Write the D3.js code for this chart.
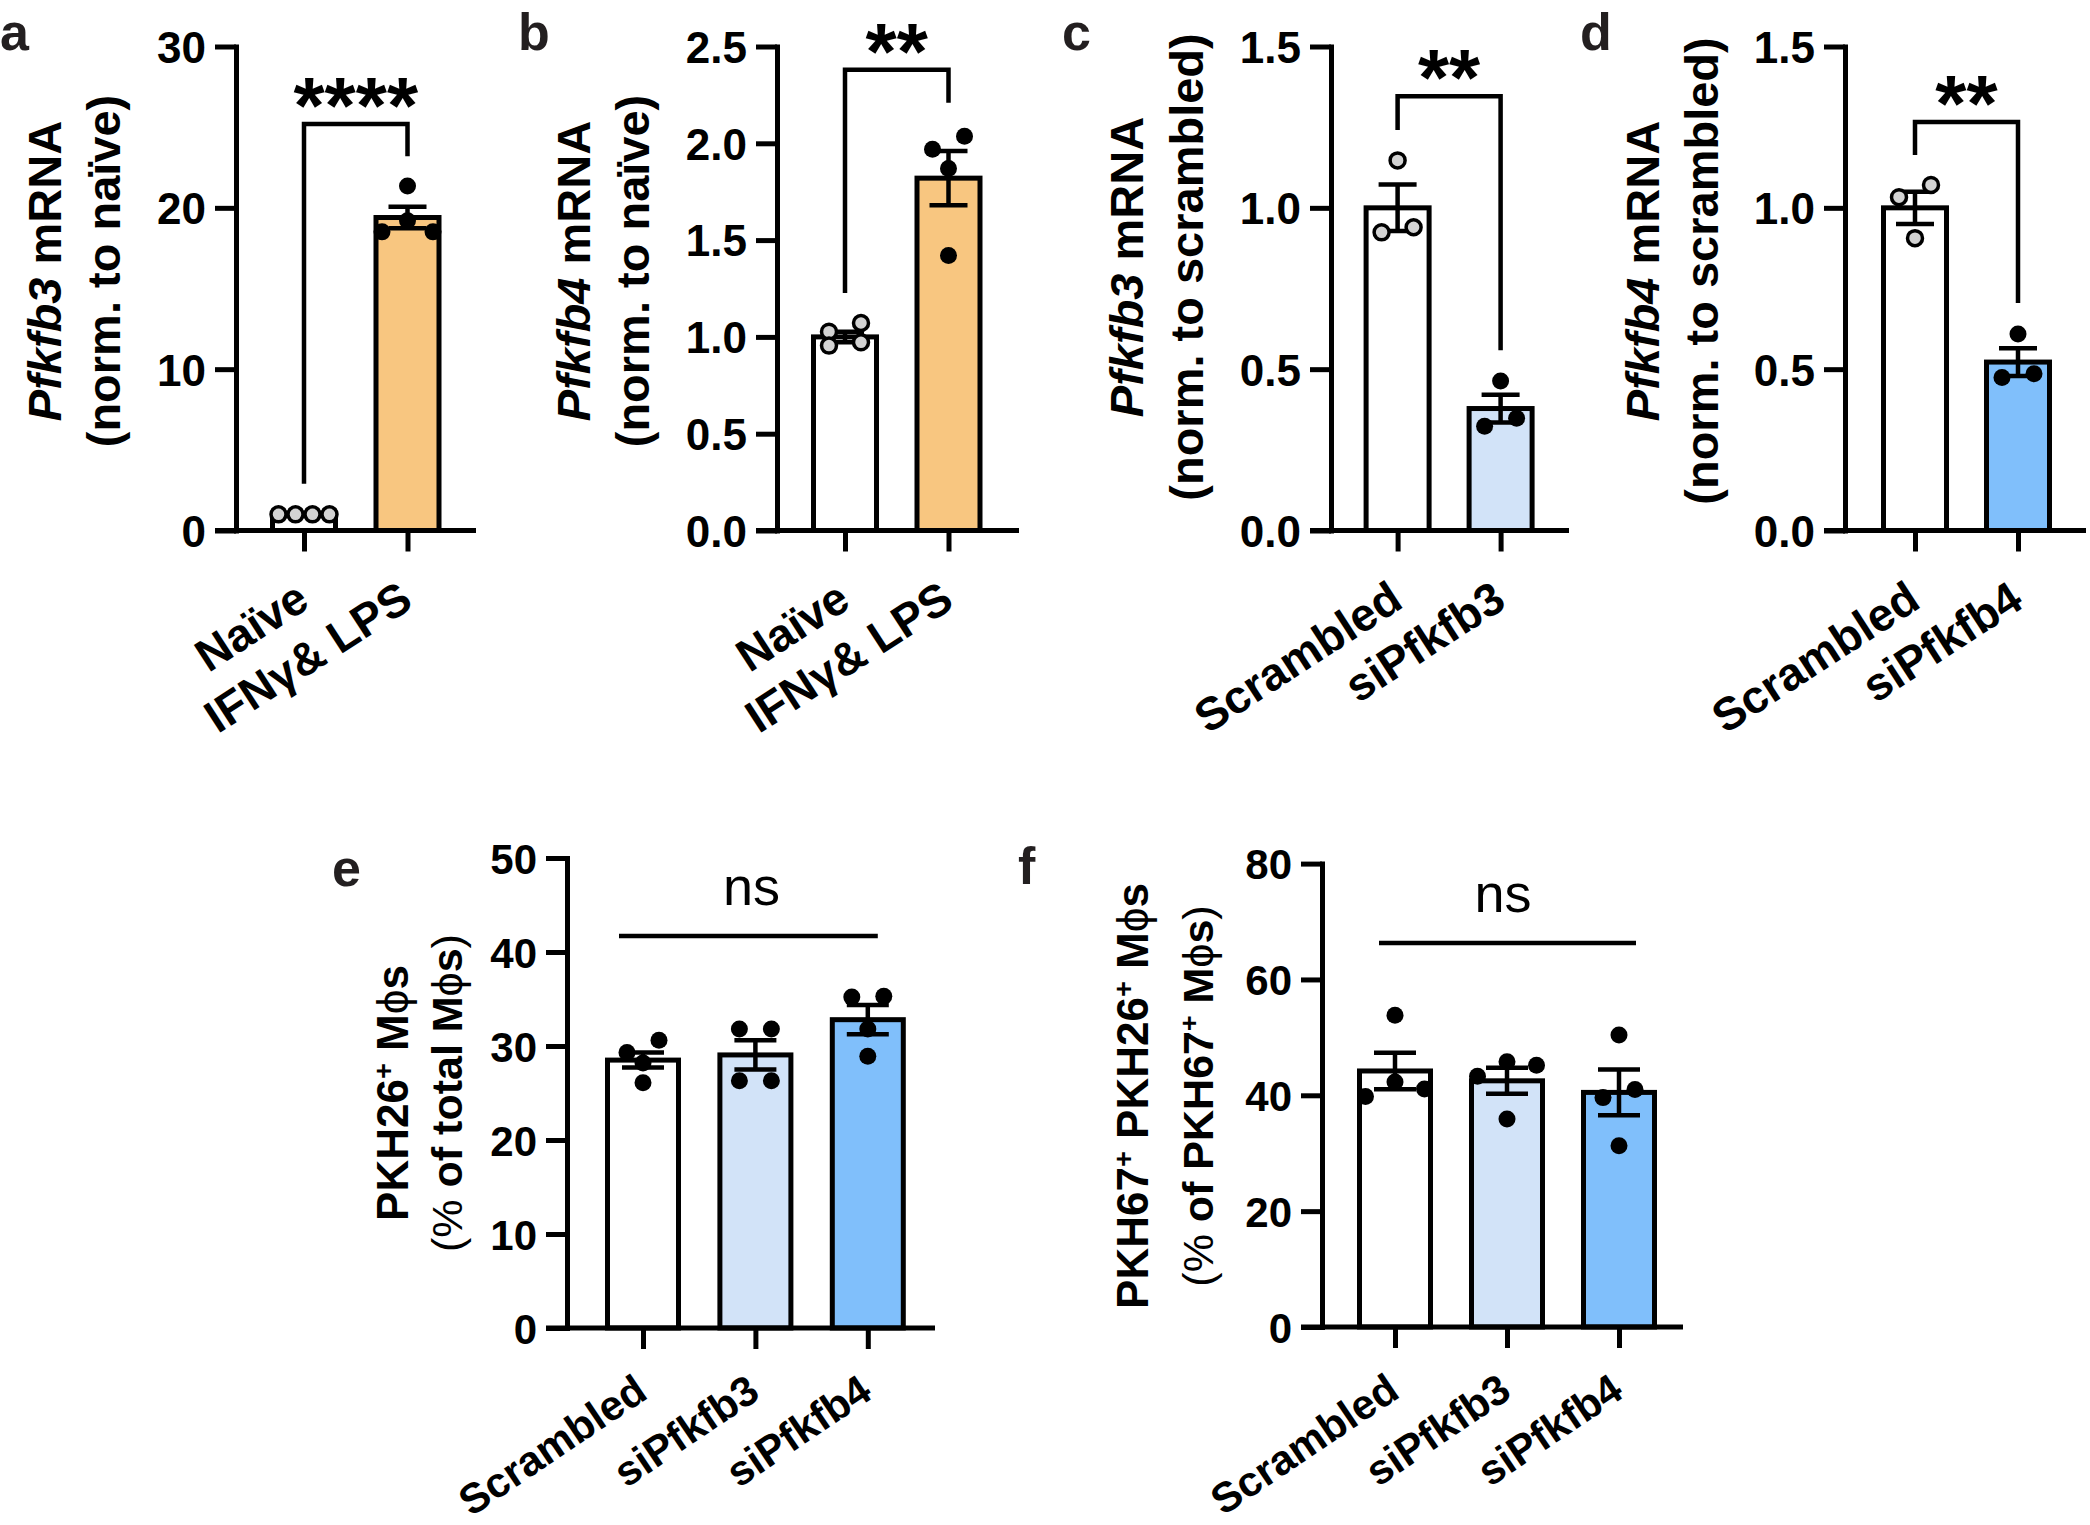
<!DOCTYPE html>
<html>
<head>
<meta charset="utf-8">
<script src="https://cdn.jsdelivr.net/npm/d3@7"></script>
<style>
  html, body { margin: 0; padding: 0; background: #fff; }
  svg { display: block; font-family: "Liberation Sans", Arial, Helvetica, sans-serif; }
</style>
</head>
<body>
<svg id="chart" width="2090" height="1525"></svg>
<script>
// ---------------- DATA ----------------
// Panel a: Pfkfb3 mRNA (norm. to naive)
const catsA = ["Naïve", "IFNγ& LPS"];
const meansA = [1.0, 19.4];
const semsA = [0.03, 0.67];
const pointsA = [[1.0, 1.0, 1.0, 1.0], [21.36, 19.2, 18.51, 18.51]];
const ticksA = [0, 10, 20, 30];

// Panel b: Pfkfb4 mRNA (norm. to naive)
const catsB = ["Naïve", "IFNγ& LPS"];
const meansB = [1.0, 1.82];
const semsB = [0.027, 0.14];
const pointsB = [[1.027, 1.072, 0.972, 0.955], [2.036, 1.969, 1.87, 1.421]];
const ticksB = [0, 0.5, 1.0, 1.5, 2.0, 2.5];

// Panel c: Pfkfb3 mRNA (norm. to scrambled)
const catsC = ["Scrambled", "siPfkfb3"];
const meansC = [1.0, 0.378];
const semsC = [0.072, 0.043];
const pointsC = [[1.147, 0.94, 0.924], [0.463, 0.348, 0.323]];
const ticksC = [0, 0.5, 1.0, 1.5];

// Panel d: Pfkfb4 mRNA (norm. to scrambled)
const catsD = ["Scrambled", "siPfkfb4"];
const meansD = [1.0, 0.522];
const semsD = [0.05, 0.043];
const pointsD = [[1.071, 1.033, 0.906], [0.609, 0.486, 0.474]];
const ticksD = [0, 0.5, 1.0, 1.5];

// Panel e: PKH26+ Mphis (% of total Mphis)
const catsE = ["Scrambled", "siPfkfb3", "siPfkfb4"];
const meansE = [28.5, 29.05, 32.8];
const semsE = [0.8, 1.55, 1.55];
const pointsE = [[30.6, 29.3, 28.2, 26.1], [31.8, 31.8, 26.3, 26.3], [35.2, 35.3, 31.8, 28.9]];
const ticksE = [0, 10, 20, 30, 40, 50];

// Panel f: PKH67+ PKH26+ Mphis (% of PKH67+ Mphis)
const catsF = ["Scrambled", "siPfkfb3", "siPfkfb4"];
const meansF = [44.2, 42.5, 40.5];
const semsF = [3.15, 2.25, 3.95];
const pointsF = [[53.8, 42.3, 41.1, 39.8], [45.8, 45.2, 43.3, 35.9], [50.4, 41.0, 39.6, 31.3]];
const ticksF = [0, 20, 40, 60, 80];

// Significance annotations (label, bracket top, left foot, right foot in data units)
const sigA = { label: "****", top: 25.2, left: 2.9, right: 23.2 };
const sigB = { label: "**", top: 2.38, left: 1.227, right: 2.21 };
const sigC = { label: "**", top: 1.346, left: 1.241, right: 0.559 };
const sigD = { label: "**", top: 1.266, left: 1.164, right: 0.705 };
const sigE = { label: "ns", top: 41.7 };
const sigF = { label: "ns", top: 66.3 };

// ---------------- STYLE ----------------
const ORANGE = "#F8C680";
const LIGHTBLUE = "#D2E3F8";
const BLUE = "#80BFFB";
const GREYDOT = "#D3D3D3";
const FONT = '"Liberation Sans", Arial, Helvetica, sans-serif';

const svg = d3.select("#chart");
svg.append("rect").attr("width", 2090).attr("height", 1525).attr("fill", "#fff");

function layoutDots(vals, y, barW) {
  const pts = vals.map(v => ({ v, py: y(v) })).sort((a, b) => b.v - a.v);
  const rows = [];
  pts.forEach(p => {
    const r = rows[rows.length - 1];
    if (r && p.py - r[0].py < 16) r.push(p); else rows.push([p]);
  });
  const out = [];
  rows.forEach(r => {
    const n = r.length;
    const s = n > 1 ? Math.min(32, (barW - 12) / (n - 1)) : 0;
    let offs;
    if (n === 1) offs = [0];
    else if (n === 2) offs = [s / 2, -s / 2];
    else if (n === 3) offs = [0, s, -s];
    else offs = d3.range(n).map(k => ((n - 1) / 2 - k) * s);
    r.forEach((p, k) => out.push({ v: p.v, dx: offs[k] }));
  });
  return out;
}

function addRich(sel, segs) {
  segs.forEach(s => {
    const t = sel.append("tspan").text(s.t);
    if (s.italic) t.attr("font-style", "italic");
    if (s.normal) t.attr("font-weight", "normal");
    if (s.sup) t.attr("baseline-shift", "super").attr("font-size", "0.62em");
  });
}

function drawPanel(c) {
  const g = svg.append("g");
  const y = d3.scaleLinear().domain([0, c.max]).range([c.yZero, c.yTop]);
  const x0 = c.axisX + c.catOffset;
  const x = d3.scalePoint().domain(c.cats).range([x0, x0 + c.step * (c.cats.length - 1)]);

  // bars
  g.selectAll("rect.bar").data(c.cats).join("rect")
    .attr("class", "bar")
    .attr("x", d => x(d) - c.barW / 2)
    .attr("width", c.barW)
    .attr("y", (d, i) => y(c.means[i]))
    .attr("height", (d, i) => c.yZero - y(c.means[i]))
    .attr("fill", (d, i) => c.fills[i])
    .attr("stroke", "#000").attr("stroke-width", 5);

  // error bars
  c.cats.forEach((cat, i) => {
    const cx = x(cat), hi = y(c.means[i] + c.sems[i]), lo = y(c.means[i] - c.sems[i]);
    const eg = g.append("g").attr("stroke", "#000").attr("stroke-width", 4.5);
    eg.append("line").attr("x1", cx).attr("x2", cx).attr("y1", hi).attr("y2", lo);
    eg.append("line").attr("x1", cx - c.capHalf).attr("x2", cx + c.capHalf).attr("y1", hi).attr("y2", hi);
    eg.append("line").attr("x1", cx - c.capHalf).attr("x2", cx + c.capHalf).attr("y1", lo).attr("y2", lo);
  });

  // dots
  c.cats.forEach((cat, i) => {
    const dots = layoutDots(c.points[i], y, c.barW);
    g.selectAll(null).data(dots).join("circle")
      .attr("cx", d => x(cat) + d.dx)
      .attr("cy", d => y(d.v))
      .attr("r", c.open[i] ? 7.5 : 8.5)
      .attr("fill", c.open[i] ? GREYDOT : "#000")
      .attr("stroke", "#000")
      .attr("stroke-width", c.open[i] ? 3.5 : 0);
  });

  // y axis
  const ya = g.append("g").attr("transform", `translate(${c.axisX},0)`)
    .call(d3.axisLeft(y).tickValues(c.ticks).tickSize(21).tickSizeOuter(0).tickPadding(9).tickFormat(c.fmt));
  ya.select(".domain").attr("stroke-width", 5).attr("stroke-linecap", "square");
  ya.selectAll(".tick line").attr("stroke-width", 5);
  ya.selectAll(".tick text").attr("font-family", FONT).attr("font-weight", "bold")
    .attr("font-size", c.tickFont).attr("fill", "#000").attr("dy", "0.36em");

  // x axis
  const xa = g.append("g").attr("transform", `translate(0,${c.yZero})`)
    .call(d3.axisBottom(x).tickSize(21).tickSizeOuter(0));
  xa.select(".domain").remove();
  xa.append("line").attr("x1", c.axisX - 21).attr("x2", c.xEnd).attr("y1", 0).attr("y2", 0)
    .attr("stroke", "#000").attr("stroke-width", 5);
  xa.selectAll(".tick line").attr("stroke-width", 5);
  xa.selectAll(".tick text")
    .attr("font-family", FONT).attr("font-weight", "bold").attr("font-size", c.xFont).attr("fill", "#000")
    .attr("text-anchor", "end").attr("x", 0).attr("y", 0).attr("dy", "0.72em")
    .attr("transform", `translate(${c.xlDx},${c.xlDy}) rotate(${-c.angle})`);

  // y label
  c.ylab.forEach((line, k) => {
    const bx = c.axisX - c.ylabOff[k];
    const t = g.append("text")
      .attr("transform", `translate(${bx},${c.ylabY}) rotate(-90)`)
      .attr("text-anchor", "middle")
      .attr("font-family", FONT).attr("font-weight", "bold")
      .attr("font-size", c.ylabFonts ? c.ylabFonts[k] : c.ylabFont).attr("fill", "#000");
    addRich(t, line);
  });

  // significance
  const s = c.sig;
  if (s.left !== undefined) {
    const xl = x(c.cats[0]), xr = x(c.cats[1]);
    g.append("path")
      .attr("d", `M${xl},${y(s.left)}V${y(s.top)}H${xr}V${y(s.right)}`)
      .attr("fill", "none").attr("stroke", "#000").attr("stroke-width", 4.5)
      .attr("stroke-linejoin", "miter");
    g.append("text").attr("x", (xl + xr) / 2).attr("y", y(s.top) + c.starDy)
      .attr("text-anchor", "middle").attr("font-family", FONT).attr("font-weight", "bold")
      .attr("font-size", c.starFont).text(s.label);
  } else {
    const xl = x(c.cats[0]) + c.nsL, xr = x(c.cats[c.cats.length - 1]) + c.nsR;
    g.append("line").attr("x1", xl).attr("x2", xr).attr("y1", y(s.top)).attr("y2", y(s.top))
      .attr("stroke", "#000").attr("stroke-width", 4.5);
    g.append("text").attr("x", (x(c.cats[0]) + x(c.cats[c.cats.length - 1])) / 2 - 4).attr("y", y(s.top) - 31)
      .attr("text-anchor", "middle").attr("font-family", FONT).attr("font-size", 54).text(s.label);
  }

  // panel letter
  svg.append("text").attr("x", c.letterX).attr("y", c.letterY)
    .attr("font-family", FONT).attr("font-weight", "bold").attr("font-size", 52)
    .attr("fill", "#231f20").text(c.letter);
}

const fmt0 = d3.format("d");
const fmt1 = d3.format(".1f");

const topCommon = { yTop: 46.5, yZero: 530.5, catOffset: 68, step: 103.5, barW: 63, capHalf: 19,
  tickFont: 44, xFont: 46, angle: 33, xlDx: -11, xlDy: 48, ylabFont: 47, ylabY: 271, starFont: 80, starDy: 9 };
const botCommon = { step: 112.4, barW: 71, capHalf: 21, tickFont: 42, xFont: 42, angle: 34, xlDx: -11, xlDy: 44,
  ylabFonts: [44, 43] };

drawPanel(Object.assign({}, topCommon, {
  letter: "a", letterX: 0, letterY: 50,
  axisX: 236, xEnd: 476, max: 30, ticks: ticksA, fmt: fmt0,
  cats: catsA, means: meansA, sems: semsA, points: pointsA,
  fills: ["#fff", ORANGE], open: [true, false], sig: sigA,
  ylab: [[{ t: "Pfkfb3", italic: true }, { t: " mRNA" }], [{ t: "(norm. to naïve)" }]],
  ylabOff: [175, 116.5]
}));
drawPanel(Object.assign({}, topCommon, {
  letter: "b", letterX: 518, letterY: 50,
  axisX: 777, xEnd: 1019, max: 2.5, ticks: ticksB, fmt: fmt1,
  cats: catsB, means: meansB, sems: semsB, points: pointsB,
  fills: ["#fff", ORANGE], open: [true, false], sig: sigB,
  ylab: [[{ t: "Pfkfb4", italic: true }, { t: " mRNA" }], [{ t: "(norm. to naïve)" }]],
  ylabOff: [187, 128]
}));
drawPanel(Object.assign({}, topCommon, {
  letter: "c", letterX: 1062, letterY: 50,
  axisX: 1331, xEnd: 1569, max: 1.5, ticks: ticksC, fmt: fmt1, catOffset: 66.6, step: 103,
  cats: catsC, means: meansC, sems: semsC, points: pointsC,
  fills: ["#fff", LIGHTBLUE], open: [true, false], sig: sigC,
  ylab: [[{ t: "Pfkfb3", italic: true }, { t: " mRNA" }], [{ t: "(norm. to scrambled)" }]],
  ylabOff: [188, 128], ylabY: 267
}));
drawPanel(Object.assign({}, topCommon, {
  letter: "d", letterX: 1580, letterY: 50,
  axisX: 1845, xEnd: 2086, max: 1.5, ticks: ticksD, fmt: fmt1, catOffset: 70, step: 103,
  cats: catsD, means: meansD, sems: semsD, points: pointsD,
  fills: ["#fff", BLUE], open: [true, false], sig: sigD,
  ylab: [[{ t: "Pfkfb4", italic: true }, { t: " mRNA" }], [{ t: "(norm. to scrambled)" }]],
  ylabOff: [186, 127]
}));
drawPanel(Object.assign({}, botCommon, {
  letter: "e", letterX: 332, letterY: 886,
  axisX: 567, yTop: 858, yZero: 1328, catOffset: 76, xEnd: 935, max: 50, ticks: ticksE, fmt: fmt0,
  cats: catsE, means: meansE, sems: semsE, points: pointsE,
  fills: ["#fff", LIGHTBLUE, BLUE], open: [false, false, false], sig: sigE, nsL: -24, nsR: 10,
  ylab: [[{ t: "PKH26" }, { t: "+", sup: true }, { t: " M" }, { t: "ϕ", normal: true }, { t: "s" }],
         [{ t: "(%", normal: true }, { t: " of total M" }, { t: "ϕ", normal: true }, { t: "s" }, { t: ")", normal: true }]],
  ylabOff: [159, 105], ylabY: 1093
}));
drawPanel(Object.assign({}, botCommon, {
  letter: "f", letterX: 1018, letterY: 884,
  axisX: 1322, yTop: 863.6, yZero: 1327, catOffset: 73, step: 112, xEnd: 1683, max: 80, ticks: ticksF, fmt: fmt0,
  cats: catsF, means: meansF, sems: semsF, points: pointsF,
  fills: ["#fff", LIGHTBLUE, BLUE], open: [false, false, false], sig: sigF, nsL: -16, nsR: 17,
  ylab: [[{ t: "PKH67" }, { t: "+", sup: true }, { t: " PKH26" }, { t: "+", sup: true }, { t: " M" }, { t: "ϕ", normal: true }, { t: "s" }],
         [{ t: "(%", normal: true }, { t: " of PKH67" }, { t: "+", sup: true }, { t: " M" }, { t: "ϕ", normal: true }, { t: "s" }, { t: ")", normal: true }]],
  ylabOff: [174, 109], ylabY: 1096
}));
</script>
</body>
</html>
